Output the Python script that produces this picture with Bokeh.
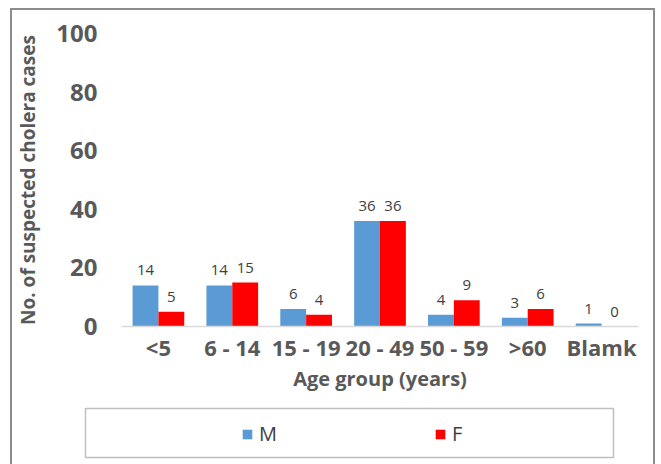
from bokeh.plotting import figure
from bokeh.layouts import column
from bokeh.models import (ColumnDataSource, FactorRange, Range1d, FixedTicker, LabelSet,
                          Legend, LegendItem)
from bokeh.core.properties import value
from bokeh.transform import dodge
from bokeh.embed import file_html
from bokeh.resources import INLINE

categories = ["<5", "6 - 14", "15 - 19", "20 - 49", "50 - 59", ">60", "Blamk"]
male = [14, 14, 6, 36, 4, 3, 1]
female = [5, 15, 4, 36, 9, 6, 0]
y_ticks = [0, 20, 40, 60, 80, 100]
series_names = ["M", "F"]

source = ColumnDataSource(data=dict(
    cat=categories, M=male, F=female,
    M_lbl=[str(v) for v in male], F_lbl=[str(v) for v in female],
))

BLUE = "#5B9BD5"
RED = "#FF0000"
GREY = "#595959"
FONT = "Open Sans"

p = figure(width=641, height=396, output_backend="svg", toolbar_location=None,
           x_range=FactorRange(*categories, range_padding=0), y_range=Range1d(0, 100),
           min_border_left=108, min_border_right=15, min_border_top=23, min_border_bottom=80,
           frame_align=False)
p.outline_line_color = None
p.xgrid.grid_line_color = None
p.ygrid.grid_line_color = None

bw = 0.35
p.vbar(x=dodge("cat", -bw / 2, range=p.x_range), top="M", width=bw, source=source,
       fill_color=BLUE, line_color=None)
p.vbar(x=dodge("cat", bw / 2, range=p.x_range), top="F", width=bw, source=source,
       fill_color=RED, line_color=None)

for col, off in (("M", -bw / 2), ("F", bw / 2)):
    p.add_layout(LabelSet(x=dodge("cat", off, range=p.x_range), y=col, text=col + "_lbl",
                          source=source, text_align="center", text_baseline="alphabetic",
                          y_offset=10, text_font=value(FONT),
                          text_font_size=value("15px"), text_color=value("#404040")))

# y axis
p.yaxis.ticker = FixedTicker(ticks=y_ticks)
p.yaxis.axis_line_color = None
p.yaxis.major_tick_line_color = None
p.yaxis.minor_tick_line_color = None
p.yaxis.major_label_standoff = 18
p.yaxis.major_label_text_font = FONT
p.yaxis.major_label_text_font_style = "bold"
p.yaxis.major_label_text_font_size = "24px"
p.yaxis.major_label_text_color = GREY
p.yaxis.axis_label = "No. of suspected cholera cases"
p.yaxis.axis_label_text_font = FONT
p.yaxis.axis_label_text_font_style = "bold"
p.yaxis.axis_label_text_font_size = "19px"
p.yaxis.axis_label_text_color = GREY
p.yaxis.axis_label_standoff = 12

# x axis
p.xaxis.axis_line_color = "#D9D9D9"
p.xaxis.axis_line_width = 1.5
p.xaxis.major_tick_line_color = None
p.xaxis.minor_tick_line_color = None
p.xaxis.major_label_standoff = -1
p.xaxis.major_label_text_font = FONT
p.xaxis.major_label_text_font_style = "bold"
p.xaxis.major_label_text_font_size = "22px"
p.xaxis.major_label_text_color = GREY
p.xaxis.axis_label = "Age group (years)"
p.xaxis.axis_label_text_font = FONT
p.xaxis.axis_label_text_font_style = "bold"
p.xaxis.axis_label_text_font_size = "20px"
p.xaxis.axis_label_text_color = GREY
p.xaxis.axis_label_standoff = 0

# legend strip: its frame outline is the legend box; its zero-width bars only feed the legend
p2 = figure(width=641, height=58, output_backend="svg", toolbar_location=None,
            x_range=FactorRange(*categories, range_padding=0), y_range=Range1d(1000, 1001),
            min_border_left=73, min_border_right=40, min_border_top=2, min_border_bottom=7,
            frame_align=False)
p2.axis.visible = False
p2.grid.visible = False
p2.outline_line_color = "#BFBFBF"
p2.outline_line_width = 1.5
lm = p2.vbar(x="cat", top="M", bottom=-1, width=0, source=source,
             fill_color=BLUE, line_color=None)
lf = p2.vbar(x="cat", top="F", bottom=-1, width=0, source=source,
             fill_color=RED, line_color=None)
legend = Legend(items=[LegendItem(label=series_names[0], renderers=[lm]),
                       LegendItem(label=series_names[1], renderers=[lf])],
                location=(156, 10), orientation="horizontal",
                margin=0, padding=0, spacing=150, label_width=25,
                glyph_width=12, glyph_height=12, label_standoff=6,
                label_text_font=FONT, label_text_font_size="20px",
                label_text_color="#404040",
                border_line_color=None, background_fill_alpha=0)
p2.add_layout(legend, "center")

layout = column(p, p2, spacing=0,
                styles={"margin": "8px 0 0 10px", "border": "2px solid #8C8C8C",
                        "border-bottom": "none"})

open("out.html", "w").write(file_html(layout, INLINE))
